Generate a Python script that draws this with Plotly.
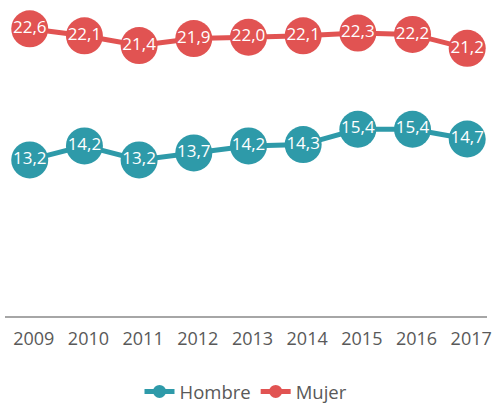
import plotly.graph_objects as go

years = [2009, 2010, 2011, 2012, 2013, 2014, 2015, 2016, 2017]
hombre = [13.2, 14.2, 13.2, 13.7, 14.2, 14.3, 15.4, 15.4, 14.7]
mujer = [22.6, 22.1, 21.4, 21.9, 22.0, 22.1, 22.3, 22.2, 21.2]
series_names = ["Hombre", "Mujer"]
colors = ["#2E9AA9", "#E15352"]

def fmt(v):
    return f"{v:.1f}".replace(".", ",")

fig = go.Figure()
for name, vals, col in zip(series_names, [hombre, mujer], colors):
    fig.add_trace(go.Scatter(
        x=years, y=vals, mode="lines+markers+text",
        text=[fmt(v) for v in vals], textposition="middle center",
        textfont=dict(family="Open Sans", size=17, color="white"),
        line=dict(color=col, width=5),
        marker=dict(color=col, size=37),
        showlegend=False, cliponaxis=False,
    ))
for name, col in zip(series_names, colors):
    fig.add_trace(go.Scatter(
        x=[None], y=[None], mode="lines+markers", name=name,
        line=dict(color=col, width=5), marker=dict(color=col, size=13),
    ))

fig.update_layout(
    width=492, height=404,
    margin=dict(l=5, r=0, t=0, b=88),
    paper_bgcolor="white", plot_bgcolor="white",
    font=dict(family="Open Sans", color="#595959", size=18),
    xaxis=dict(range=[2008.5475, 2017.362], tickvals=years,
               ticktext=[str(y) for y in years],
               showgrid=False, zeroline=False, showline=True,
               linecolor="#A6A6A6", linewidth=2,
               ticks="outside", ticklen=5, tickcolor="rgba(0,0,0,0)",
               tickfont=dict(size=18, color="#595959"),
               ticklabelshift=4, ticklabeloverflow="allow"),
    yaxis=dict(range=[2.0, 24.67], visible=False, showgrid=False, zeroline=False),
    legend=dict(orientation="h", x=0.5, xanchor="center",
                yref="container", y=0.03, yanchor="middle",
                font=dict(size=18.5, color="#595959")),
)
fig.write_html("out.html", config={"displayModeBar": False},
               post_script="document.body.style.margin='0';document.body.style.overflow='hidden';")
